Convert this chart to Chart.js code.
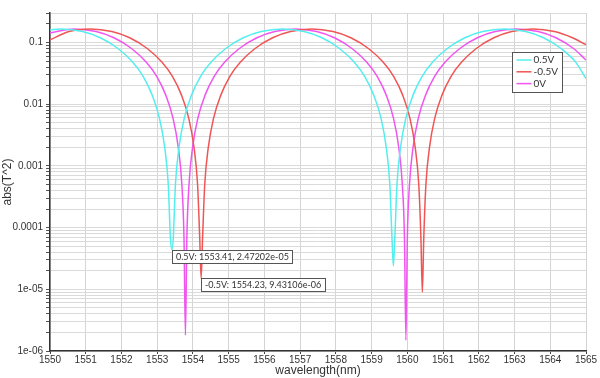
<!DOCTYPE html>
<html>
<head>
<meta charset="utf-8">
<script src="https://cdn.jsdelivr.net/npm/chart.js@4"></script>
<style>
  html, body { margin: 0; background: #fff; }
  #wrap { width: 600px; height: 378px; }
</style>
</head>
<body>
<div id="wrap"><canvas id="chart"></canvas></div>
<script>
// Transmission |T^2|, per bias voltage (wavelength in nm)
const wl05 = [1550, 1550.31, 1550.91, 1551.41, 1551.91, 1552.31, 1552.61, 1552.86, 1553.06, 1553.21, 1553.31, 1553.37, 1553.41, 1553.45, 1553.51, 1553.61, 1553.76, 1553.96, 1554.21, 1554.51, 1554.91, 1555.41, 1555.91, 1556.51, 1557.11, 1557.61, 1558.11, 1558.51, 1558.81, 1559.06, 1559.26, 1559.41, 1559.51, 1559.57, 1559.61, 1559.65, 1559.71, 1559.81, 1559.96, 1560.16, 1560.41, 1560.71, 1561.11, 1561.61, 1562.11, 1562.71, 1563.31, 1563.81, 1564.31, 1564.71, 1565];
const t05 = [0.161, 0.165, 0.150, 0.119, 0.079, 0.048, 0.028, 0.014, 0.006, 0.002, 5e-4, 6.8e-5, 4.4e-5, 6.8e-5, 5e-4, 2e-3, 6e-3, 0.014, 0.028, 0.048, 0.079, 0.119, 0.150, 0.165, 0.150, 0.119, 0.079, 0.048, 0.028, 0.014, 0.006, 0.002, 5e-4, 6.8e-5, 2.4e-5, 6.8e-5, 5e-4, 2e-3, 6e-3, 0.014, 0.028, 0.048, 0.079, 0.119, 0.150, 0.165, 0.150, 0.119, 0.079, 0.048, 0.026];

const wlM05 = [1550, 1550.53, 1551.13, 1551.73, 1552.23, 1552.73, 1553.13, 1553.43, 1553.68, 1553.88, 1554.03, 1554.13, 1554.19, 1554.23, 1554.27, 1554.33, 1554.43, 1554.58, 1554.78, 1555.03, 1555.33, 1555.73, 1556.23, 1556.73, 1557.33, 1557.92, 1558.42, 1558.92, 1559.32, 1559.62, 1559.87, 1560.07, 1560.22, 1560.32, 1560.38, 1560.42, 1560.46, 1560.52, 1560.62, 1560.77, 1560.97, 1561.22, 1561.52, 1561.92, 1562.42, 1562.92, 1563.52, 1564.12, 1564.62, 1565];
const tM05 = [0.110, 0.150, 0.165, 0.150, 0.119, 0.079, 0.048, 0.028, 0.014, 0.006, 0.002, 5e-4, 6.8e-5, 1.5e-5, 6.8e-5, 5e-4, 2e-3, 6e-3, 0.014, 0.028, 0.048, 0.079, 0.119, 0.150, 0.165, 0.150, 0.119, 0.079, 0.048, 0.028, 0.014, 0.006, 0.002, 5e-4, 6.8e-5, 9e-6, 6.8e-5, 5e-4, 2e-3, 6e-3, 0.014, 0.028, 0.048, 0.079, 0.119, 0.150, 0.165, 0.150, 0.119, 0.092];

const wl0 = [1550, 1550.69, 1551.29, 1551.79, 1552.29, 1552.69, 1552.99, 1553.24, 1553.44, 1553.59, 1553.69, 1553.75, 1553.79, 1553.83, 1553.89, 1553.99, 1554.14, 1554.34, 1554.59, 1554.89, 1555.29, 1555.79, 1556.29, 1556.88, 1557.46, 1557.96, 1558.46, 1558.86, 1559.16, 1559.41, 1559.61, 1559.76, 1559.86, 1559.92, 1559.96, 1560.00, 1560.06, 1560.16, 1560.31, 1560.51, 1560.76, 1561.06, 1561.46, 1561.96, 1562.46, 1563.06, 1563.66, 1564.16, 1564.66, 1565];
const t0 = [0.144, 0.165, 0.150, 0.119, 0.079, 0.048, 0.028, 0.014, 0.006, 0.002, 5e-4, 6.8e-5, 1.8e-6, 6.8e-5, 5e-4, 2e-3, 6e-3, 0.014, 0.028, 0.048, 0.079, 0.119, 0.150, 0.165, 0.150, 0.119, 0.079, 0.048, 0.028, 0.014, 0.006, 0.002, 5e-4, 6.8e-5, 1.5e-6, 6.8e-5, 5e-4, 2e-3, 6e-3, 0.014, 0.028, 0.048, 0.079, 0.119, 0.150, 0.165, 0.150, 0.119, 0.079, 0.052];

const seriesNames = ["0.5V", "-0.5V", "0V"];
const seriesColors = ["#55eeee", "#f05555", "#f055f0"];

// Axis ticks
const xMin = 1550, xMax = 1565;
const yDecades = [1e-6, 1e-5, 1e-4, 1e-3, 0.01, 0.1];
const yDecadeLabels = ["1e-06", "1e-05", "0.0001", "0.001", "0.01", "0.1"];
const yMinor = [1, 2, 3, 4, 5, 6, 7, 8, 9];
const yMin = 1e-6, yMax = 0.3;

// Data-point markers (text boxes) at the first dips
const annoText = ["0.5V: 1553.41, 2.47202e-05", "-0.5V: 1554.23, 9.43106e-06"];
const annoX = [wl05[12], wlM05[13]];
const annoY = [t05[12], tM05[13]];

function toPoints(xs, ys) {
    return xs.map((x, i) => ({ x: x, y: ys[i] }));
}

const tickFont = { family: "'Liberation Sans Narrow', 'Liberation Sans', sans-serif", size: 10 };
const titleFont = { family: "'Liberation Sans', sans-serif", size: 12 };

const overlay = {
    id: "overlay",
    afterDraw(chart) {
        const ctx = chart.ctx;
        const x = chart.scales.x, y = chart.scales.y;
        ctx.save();

        // marker boxes
        ctx.font = "9px Lato";
        ctx.textBaseline = "middle";
        annoText.forEach((txt, i) => {
            const px = Math.round(x.getPixelForValue(annoX[i])) + 0.5;
            const py = Math.round(y.getPixelForValue(annoY[i])) + 0.5;
            const w = Math.ceil(ctx.measureText(txt).width) + 7;
            ctx.fillStyle = "#fff";
            ctx.fillRect(px, py, w, 13);
            ctx.strokeStyle = "#555";
            ctx.lineWidth = 1;
            ctx.strokeRect(px, py, w, 13);
            ctx.fillStyle = "#333";
            ctx.fillText(txt, px + 3.5, py + 7);
        });

        // legend
        const lx = 512.5, ly = 52.5;
        ctx.fillStyle = "#fff";
        ctx.fillRect(lx, ly, 50, 40);
        ctx.strokeStyle = "#555";
        ctx.strokeRect(lx, ly, 50, 40);
        ctx.font = "10px Lato";
        seriesNames.forEach((name, i) => {
            const ry = ly + 7.5 + i * 11.8;
            ctx.strokeStyle = seriesColors[i];
            ctx.lineWidth = 1.5;
            ctx.beginPath();
            ctx.moveTo(lx + 4, ry);
            ctx.lineTo(lx + 19, ry);
            ctx.stroke();
            ctx.fillStyle = "#333";
            ctx.fillText(name, lx + 21, ry);
        });
        ctx.restore();
    }
};

new Chart(document.getElementById("chart"), {
    type: "line",
    data: {
        datasets: [
            { label: seriesNames[0], data: toPoints(wl05, t05), borderColor: seriesColors[0] },
            { label: seriesNames[1], data: toPoints(wlM05, tM05), borderColor: seriesColors[1] },
            { label: seriesNames[2], data: toPoints(wl0, t0), borderColor: seriesColors[2] }
        ]
    },
    options: {
        responsive: true,
        maintainAspectRatio: false,
        animation: false,
        layout: { padding: { top: 13, right: 14, left: 0, bottom: 0 } },
        elements: {
            point: { radius: 0 },
            line: { borderWidth: 1.5, cubicInterpolationMode: "monotone", fill: false }
        },
        plugins: {
            legend: { display: false },
            tooltip: { enabled: false }
        },
        scales: {
            x: {
                type: "linear",
                min: xMin,
                max: xMax,
                afterFit: s => { s.height = 27; },
                border: { color: "#333", width: 1.5 },
                grid: { color: "#d4d4d4", tickColor: "#444", tickLength: 3 },
                ticks: {
                    stepSize: 1,
                    autoSkip: false,
                    maxRotation: 0,
                    padding: 0,
                    color: "#333",
                    font: tickFont,
                    callback: v => String(v)
                },
                title: { display: true, text: "wavelength(nm)", color: "#333", font: titleFont, padding: 0 }
            },
            y: {
                type: "logarithmic",
                min: yMin,
                max: yMax,
                afterFit: s => { s.width = 50; },
                afterBuildTicks: s => {
                    const ticks = [];
                    yDecades.forEach(d => yMinor.forEach(m => {
                        const v = m * d;
                        if (v <= yMax * 1.0001) ticks.push({ value: v });
                    }));
                    s.ticks = ticks;
                },
                border: { color: "#333", width: 1.5 },
                grid: { color: "#dadada", tickColor: "#555", tickLength: 4 },
                ticks: {
                    autoSkip: false,
                    padding: 3,
                    color: "#333",
                    font: tickFont,
                    callback: v => {
                        const i = yDecades.findIndex(d => Math.abs(v - d) / d < 1e-6);
                        return i >= 0 ? yDecadeLabels[i] : "";
                    }
                },
                title: { display: true, text: "abs(T^2)", color: "#333", font: titleFont, padding: 0 }
            }
        }
    },
    plugins: [overlay]
});
</script>
</body>
</html>
